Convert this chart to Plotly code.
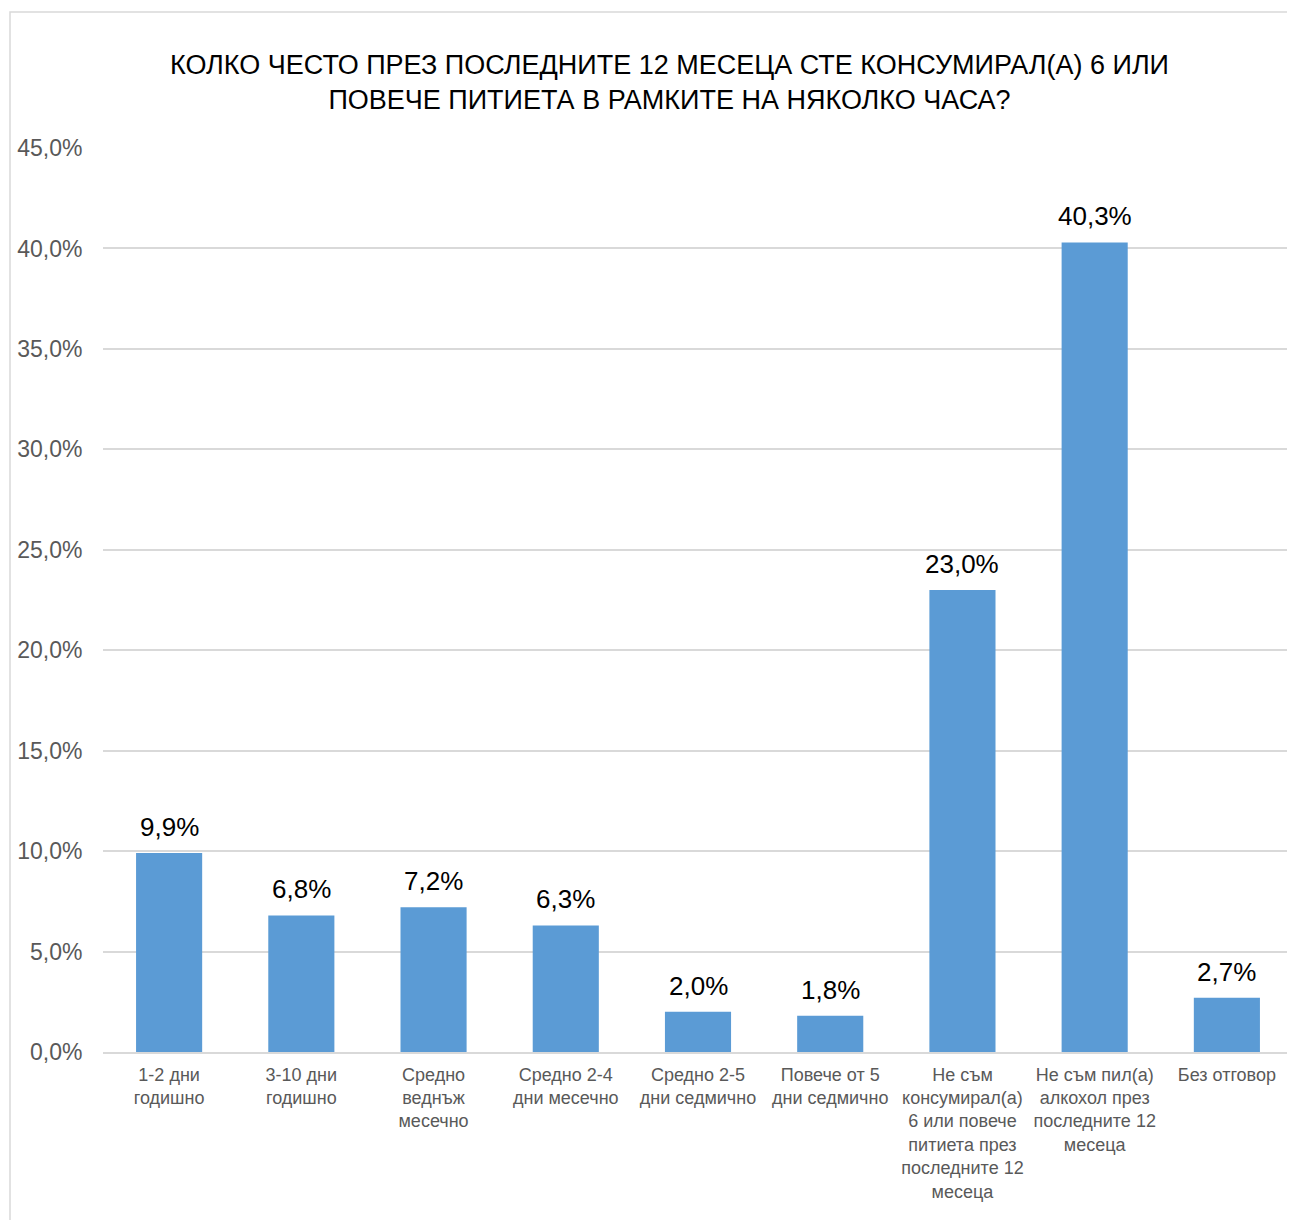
import plotly.graph_objects as go

categories = [
    "1-2 дни<br>годишно",
    "3-10 дни<br>годишно",
    "Средно<br>веднъж<br>месечно",
    "Средно 2-4<br>дни месечно",
    "Средно 2-5<br>дни седмично",
    "Повече от 5<br>дни седмично",
    "Не съм<br>консумирал(а)<br>6 или повече<br>питиета през<br>последните 12<br>месеца",
    "Не съм пил(а)<br>алкохол през<br>последните 12<br>месеца",
    "Без отговор",
]
values = [9.9, 6.8, 7.2, 6.3, 2.0, 1.8, 23.0, 40.3, 2.7]
y_ticks = [0, 5, 10, 15, 20, 25, 30, 35, 40, 45]
y_tick_labels = [f"{v:.1f}%".replace(".", ",") for v in y_ticks]

title_text = ("КОЛКО ЧЕСТО ПРЕЗ ПОСЛЕДНИТЕ 12 МЕСЕЦА СТЕ КОНСУМИРАЛ(А) 6 ИЛИ<br>"
              "ПОВЕЧЕ ПИТИЕТА В РАМКИТЕ НА НЯКОЛКО ЧАСА?")

font_family = "Liberation Sans, Arial, sans-serif"

fig = go.Figure()
fig.add_trace(go.Bar(
    x=categories,
    y=values,
    marker=dict(color="#5B9BD5", line=dict(width=0)),
    hoverinfo="skip",
))

# page has an 8px body margin; compensate
OFF = 8
W, H = 1295 - OFF, 1220 - OFF
ml, mr, mt = 103 - OFF, 2, 148 - OFF
plot_bottom = 1052 - OFF
mb = H - plot_bottom
pw, ph = W - ml - mr, H - mt - mb

annotations = [dict(
    x=c, y=v, xref="x", yref="y",
    text=f"{v:.1f}%".replace(".", ","),
    showarrow=False, yanchor="bottom", yshift=9,
    font=dict(size=26, color="#000000", family=font_family),
) for c, v in zip(categories, values)]

annotations.append(dict(
    text=title_text,
    xref="paper", yref="paper",
    x=(669 - 103) / pw, y=(1052 - 82) / ph,
    xanchor="center", yanchor="middle",
    showarrow=False,
    font=dict(size=27, color="#000000", family=font_family),
    align="center",
))

fig.update_layout(
    width=W, height=H,
    margin=dict(l=ml, r=mr, t=mt, b=mb, pad=0),
    paper_bgcolor="white",
    plot_bgcolor="white",
    separators=", ",
    bargap=0.5,
    showlegend=False,
    font=dict(family=font_family),
    xaxis=dict(
        showgrid=False,
        showline=True,
        linecolor="#d9d9d9",
        linewidth=2,
        tickfont=dict(size=18, color="#595959"),
        ticks="outside",
        ticklen=5,
        tickcolor="rgba(0,0,0,0)",
        tickangle=0,
        fixedrange=True,
    ),
    yaxis=dict(
        range=[0, 45],
        tickvals=y_ticks,
        ticktext=y_tick_labels,
        showgrid=True,
        gridcolor="#d9d9d9",
        gridwidth=1.5,
        zeroline=False,
        showline=False,
        tickfont=dict(size=23, color="#595959"),
        ticks="outside",
        ticklen=15,
        tickcolor="rgba(0,0,0,0)",
        fixedrange=True,
    ),
    annotations=annotations,
    shapes=[dict(
        type="rect", xref="paper", yref="paper",
        x0=(10 - 103) / pw, x1=1.2,
        y0=-0.5, y1=(1052 - 12) / ph,
        line=dict(color="#d9d9d9", width=1.5),
        fillcolor="rgba(0,0,0,0)",
        layer="below",
    )],
)

fig.write_html("out.html")
